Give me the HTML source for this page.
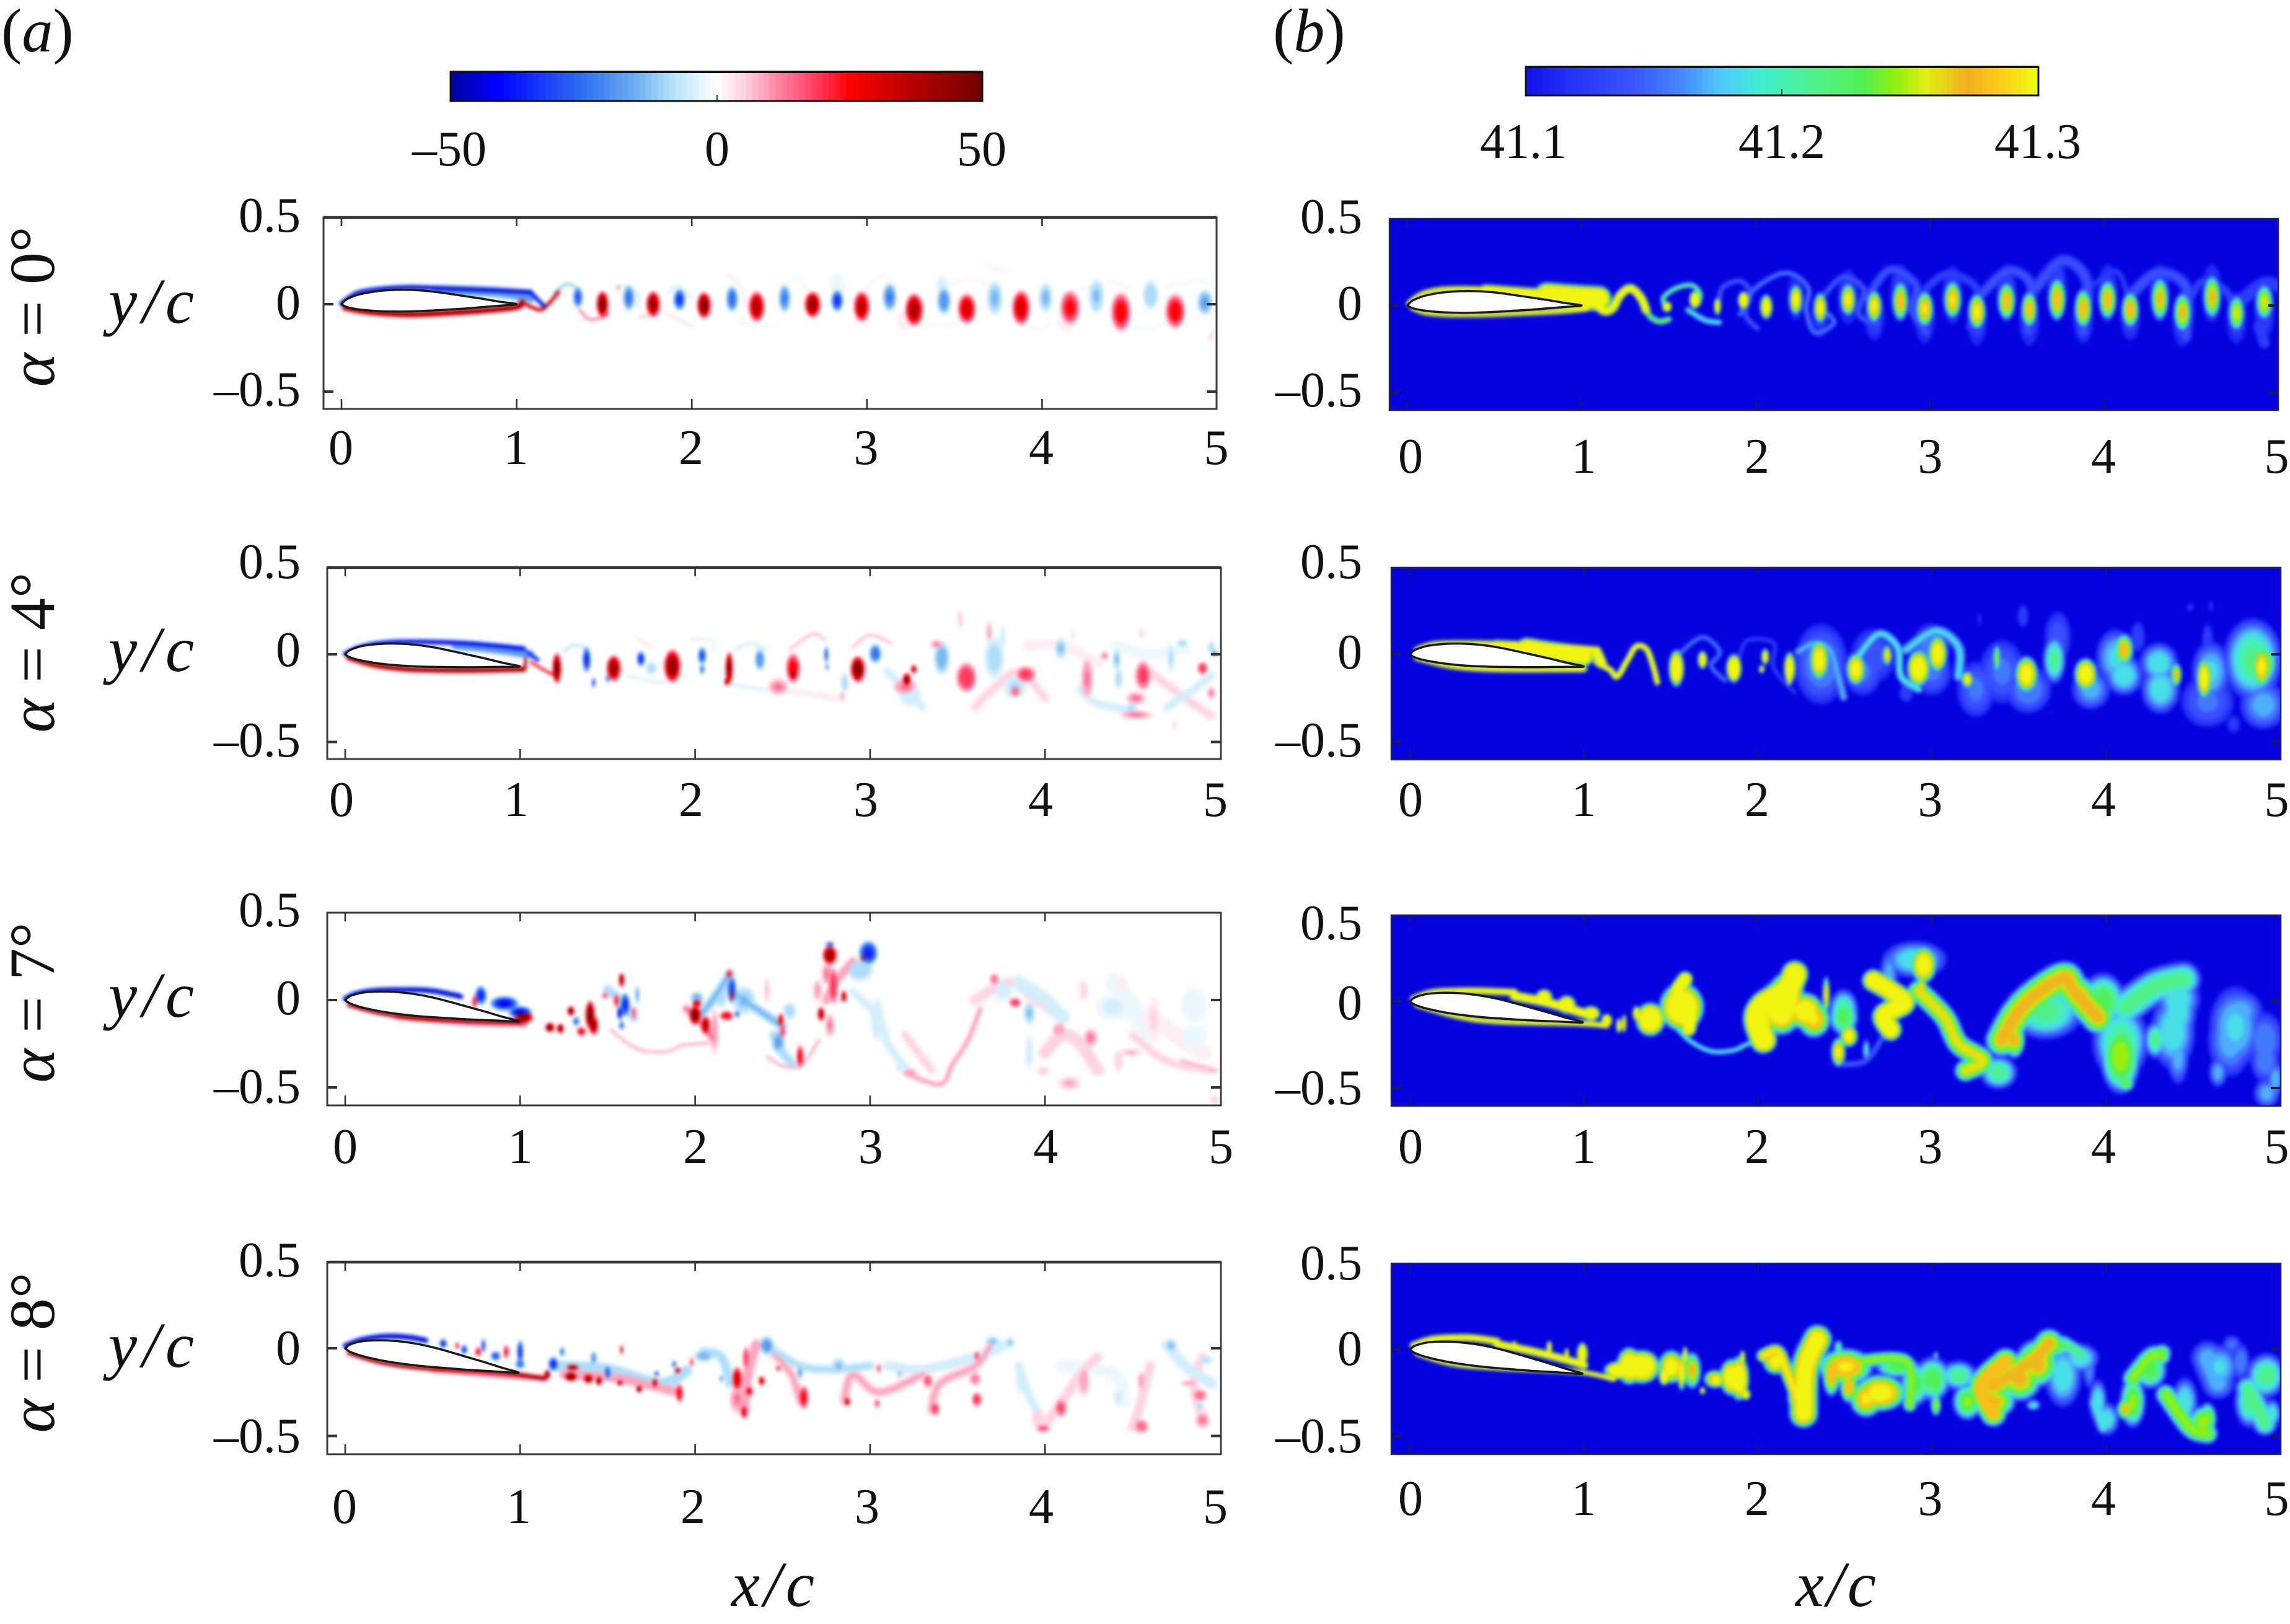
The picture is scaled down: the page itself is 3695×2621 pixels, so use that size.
<!DOCTYPE html>
<html lang="en">
<head>
<meta charset="utf-8">
<title>Vorticity and scalar fields behind an airfoil</title>
<style>
html,body{margin:0;padding:0;background:#fff;}
svg{display:block;}
text{font-family:"Liberation Serif","Noto Serif CJK SC",serif;fill:#111;}
.i{font-style:italic;}
</style>
</head>
<body>
<svg id="chart" xmlns="http://www.w3.org/2000/svg" width="3695" height="2621" viewBox="0 0 3695 2621">
<defs>
<filter id="soft" filterUnits="userSpaceOnUse" x="0" y="0" width="3695" height="2621" color-interpolation-filters="sRGB"><feGaussianBlur stdDeviation="3"/></filter>
</defs>
<rect x="0" y="0" width="3695" height="2621" fill="#ffffff"/>
<g id="panels"></g>
<g id="colorbars"></g>

<text x="2" y="83" font-size="100">(<tspan class="i">a</tspan>)</text>
<text x="2054" y="83" font-size="100">(<tspan class="i">b</tspan>)</text>

<text x="785" y="267" font-size="80" text-anchor="end">–50</text>
<text x="1157" y="267" font-size="80" text-anchor="middle">0</text>
<text x="1584" y="267" font-size="80" text-anchor="middle">50</text>
<text x="2458" y="255" font-size="80" text-anchor="middle">41.1</text>
<text x="2875" y="255" font-size="80" text-anchor="middle">41.2</text>
<text x="3288" y="255" font-size="80" text-anchor="middle">41.3</text>

<text transform="translate(87,495) rotate(-90)" font-size="104" text-anchor="middle"><tspan class="i">α</tspan> = 0°</text>
<text transform="translate(87,1053) rotate(-90)" font-size="104" text-anchor="middle"><tspan class="i">α</tspan> = 4°</text>
<text transform="translate(87,1618) rotate(-90)" font-size="104" text-anchor="middle"><tspan class="i">α</tspan> = 7°</text>
<text transform="translate(87,2183) rotate(-90)" font-size="104" text-anchor="middle"><tspan class="i">α</tspan> = 8°</text>

<text x="175" y="521" font-size="104" class="i" textLength="138" lengthAdjust="spacing">y/c</text>
<text x="175" y="1083" font-size="104" class="i" textLength="138" lengthAdjust="spacing">y/c</text>
<text x="175" y="1641" font-size="104" class="i" textLength="138" lengthAdjust="spacing">y/c</text>
<text x="175" y="2206" font-size="104" class="i" textLength="138" lengthAdjust="spacing">y/c</text>

<text x="1180" y="2592" font-size="104" class="i" textLength="134" lengthAdjust="spacing">x/c</text>
<text x="2897" y="2592" font-size="104" class="i" textLength="130" lengthAdjust="spacing">x/c</text>
</svg>

<script>
// ---- axis data ----
const xTickValues=[0,1,2,3,4,5];
const xTickLabels=['0','1','2','3','4','5'];
const yTickValues=[0.5,0,-0.5];
const yTickLabels=['0.5','0','–0.5'];

// ---- colour maps ----
const vortStops=[0,.09,.25,.35,.42,.5,.55,.62,.7,.75,.85,1];
const vortColors=['#00009f','#0000ff','#3070f0','#70b0f0','#b8e4fa','#ffffff','#ffd4e2','#ff80a0','#ff3050','#ff0000','#c00000','#700000'];
const scalStops=[0,.08,.2,.3,.38,.46,.56,.66,.72,.78,.86,.92,1];
const scalColors=['#1410ec','#2030f5','#3a50ff','#4585ff','#50c8ff','#40f0d0','#50f090','#50f050','#90f010','#e0f010','#f0b020','#ffc818','#eeff10'];
const vortLevels=[2,5,9,14,19,25,31,37,43,49];
const scalLevels=[41.112,41.125,41.14,41.155,41.17,41.185,41.2,41.215,41.23,41.245,41.26,41.27,41.28,41.29,41.297];

// ---- airfoil shape in chord units ----
const airfoilX=[0,.02,.05,.1,.2,.3,.4,.5,.6,.7,.8,.9,1];
const airfoilUpper=[0,.022,.038,.056,.074,.082,.082,.075,.062,.047,.032,.015,0];
const airfoilLower=[0,-.012,-.021,-.03,-.039,-.042,-.041,-.037,-.031,-.025,-.017,-.009,0];

// ---- alpha 0, vorticity ----
const a0BlobX=[1.35,1.64,1.93,2.23,2.53,2.83,3.13,3.44,3.73,4.02,4.31,4.62,4.93,1.49,1.78,2.07,2.37,2.69,2.97,3.27,3.57,3.88,4.16,4.45,4.76,2.83,3.43,3.22,4.14,4.97,1.58];
const a0BlobY=[.04,.037,.027,.03,.034,.02,.04,.02,.035,.037,.045,.053,.01,0,0,-.006,-.014,-.002,-.014,-.032,-.026,-.02,-.02,-.044,-.04,.11,.11,-.09,-.103,-.186,.095];
const a0BlobV=[-32,-28,-38,-30,-26,-38,-26,-24,-16,-16,-15,-14,-20,50,46,50,42,46,40,42,36,36,28,30,30,-5,-6,4,5,6,35];
const a0BlobW=[.025,.03,.03,.03,.03,.03,.035,.035,.04,.035,.04,.04,.04,.03,.035,.035,.04,.04,.04,.045,.045,.045,.05,.05,.05,.04,.035,.05,.05,.012,.004];
const a0BlobH=[.05,.06,.05,.06,.065,.05,.065,.065,.08,.07,.08,.07,.06,.06,.06,.06,.07,.06,.07,.075,.07,.08,.08,.09,.08,.06,.05,.06,.05,.02,.012];
const a0RidgeX=[[0,.09,.22,.385,.55,.88,1.08],[.55,.88,1.08],[1.08,1.12,1.16],[.02,.155,.385,.65,.98,1.03],[1.03,1.08,1.14,1.19,1.24],[1.21,1.29,1.36],[1.36,1.42,1.52,1.5],[1.59,1.69,1.69],[1.7,1.78],[1.87,1.92,2],[1.84,2.01],[2.2,2.28,2.31],[3.68,3.8],[2.5,2.6,2.66],[3,3.1,3.15],[3.9,4,4.05],[2.25,2.45,2.5],[3.4,3.6,3.7],[4.2,4.4,4.5],[4.7,4.9,4.98],[3.25,3.4,3.55],[4.45,4.6,4.75],[4.98,4.95]];
const a0RidgeY=[[.004,.063,.086,.096,.092,.08,.069],[.08,.069,.039],[.069,.027,-.014],[-.02,-.044,-.058,-.047,-.02,.01],[.01,-.014,-.032,.01,.069],[.063,.116,.08],[-.032,-.087,-.061,-.02],[.104,.063,-.02],[-.073,-.061],[.063,.104,.039],[-.044,-.132],[.169,.098,-.02],[.228,.181],[.09,.15,.08],[.1,.17,.1],[-.12,-.15,-.1],[-.1,-.13,-.1],[.08,.15,.1],[.08,.13,.08],[.1,.13,.1],[-.1,-.13,-.1],[-.12,-.14,-.1],[-.15,-.2]];
const a0RidgeV=[-50,-25,-45,48,40,-15,20,-8,12,-8,8,6,5,5,5,4,5,5,5,-5,-4,-4,6];
const a0RidgeW=[.014,.03,.012,.017,.01,.008,.006,.008,.005,.008,.005,.005,.008,.005,.005,.006,.005,.005,.005,.008,.008,.008,.008];

// ---- alpha 4, vorticity ----
const a4BlobX=[1.21,1.38,1.535,1.42,1.5,1.69,1.75,1.87,2.04,2.04,2.195,2.18,2.37,2.475,2.56,2.56,2.75,2.755,2.93,3.03,2.855,2.84,3.21,3.25,3.2,3.23,3.41,3.55,3.38,3.515,3.68,3.71,3.76,3.83,3.83,3.89,4.09,4.24,4.34,4.41,4.42,4.56,4.52,4.52,4.49,4.9,4.72,4.785,4.95,4.74,4.95,4.16,4.55,4.97];
const a4BlobY=[-.08,-.03,-.08,-.162,-.138,-.026,-.08,-.067,-.008,-.085,-.08,-.156,-.03,-.186,-.08,-.115,-.002,-.073,-.085,.004,-.162,-.24,-.144,-.085,-.186,-.233,-.02,-.132,.057,.204,.128,-.02,.098,-.21,-.186,-.115,.033,-.138,-.008,-.03,-.138,-.12,-.25,-.345,-.31,-.08,-.02,.063,.04,-.4,-.22,.11,.12,.004];
const a4BlobV=[50,-40,45,-40,-30,-40,-12,48,-35,-30,50,50,-25,15,30,50,-35,-30,50,-30,-12,12,50,40,15,-8,-18,25,15,8,12,-12,-8,18,-10,22,-15,15,15,-15,-12,22,15,15,-10,25,-10,-12,-12,6,15,6,6,-40];
const a4BlobW=[.022,.02,.035,.008,.01,.02,.03,.04,.02,.012,.018,.01,.025,.05,.035,.015,.01,.008,.035,.03,.02,.012,.02,.015,.06,.06,.04,.05,.03,.015,.015,.05,.015,.03,.06,.05,.03,.03,.02,.02,.02,.04,.05,.08,.04,.025,.02,.03,.02,.012,.02,.008,.015,.015];
const a4BlobH=[.07,.06,.06,.025,.02,.035,.03,.075,.04,.025,.075,.02,.05,.04,.07,.025,.04,.015,.06,.045,.05,.025,.03,.02,.04,.06,.08,.07,.02,.05,.05,.1,.06,.03,.06,.04,.05,.1,.02,.05,.05,.07,.03,.02,.03,.03,.07,.02,.03,.03,.03,.04,.03,.01];
const a4RidgeX=[[0,.08,.2,.36,.69,1.02],[.63,.86,1.06],[1.04,1.1],[.02,.165,.36,.69,1.02],[1.03,1.03],[1.06,1.14,1.195],[1.25,1.3,1.37],[1.67,1.75],[1.98,2.1,2.1],[2.23,2.31,2.41],[2.54,2.67,2.74],[2.9,3,3.12],[3.1,3.2,3.3],[3.6,3.7,3.85,4],[4.2,4.3,4.5],[4.6,4.8,4.95],[4.7,4.85,4.95],[3.9,4.1,4.3],[4.4,4.6,4.8],[2.5,2.8],[1.6,1.8,1.95],[2.2,2.4,2.5]];
const a4RidgeY=[[.004,.039,.063,.071,.063,.033],[.05,.027,-.002],[.015,-.032],[-.02,-.061,-.085,-.091,-.085],[-.026,-.073],[-.044,-.091,-.12],[.015,.05,.039],[.09,.04],[.086,.08,.015],[.027,.063,.027],[.027,.116,.086],[.04,.11,.063],[-.1,-.2,-.3],[-.3,-.2,-.1,-.25],[-.2,-.28,-.32],[-.1,-.25,-.35],[-.3,-.2,-.12],[.05,.05,-.05],[.05,0,.03],[-.2,-.25],[-.12,-.16,-.12],[-.17,-.2,-.15]];
const a4RidgeV=[-48,-25,-40,48,45,30,-10,8,-8,-8,10,10,-6,6,-6,6,-6,5,-5,5,-6,-6];
const a4RidgeW=[.014,.025,.012,.015,.008,.008,.008,.006,.006,.01,.008,.008,.03,.03,.03,.03,.03,.03,.03,.02,.008,.01];

// ---- alpha 7, vorticity ----
const a7BlobX=[.775,.91,.74,1,1.02,1.17,1.23,1.29,1.4,1.32,1.42,1.35,1.58,1.6,1.57,1.58,1.485,1.67,1.65,1.55,2,2.01,2.06,2.195,2.21,2.21,2.01,2.18,2.24,2.28,2.145,2.11,2.49,2.5,2.475,2.6,2.54,2.41,2.77,2.77,2.99,2.96,2.94,2.755,2.79,2.85,2.72,2.77,2.8,2.7,3.04,3.17,3.23,3.71,3.83,3.91,3.76,4.08,4.26,3.91,3.99,4.14,4.22,4.39,4.43,4.62,4.49,4.85,4.85,4.42,4.97];
const a7BlobY=[.026,-.02,-.01,-.07,-.1,-.157,-.163,-.063,-.086,-.122,-.145,-.18,.115,-.027,-.074,-.145,.026,.03,-.074,-.004,-.086,-.02,-.145,.15,.06,.03,.014,-.09,-.08,-.004,.02,-.18,-.116,-.18,-.24,-.323,-.063,.055,.257,.32,.27,.24,.174,.15,.08,.02,-.08,-.145,-.004,.055,-.11,-.38,-.417,.12,-.015,-.074,.055,-.17,-.216,-.3,-.405,-.476,.055,-.04,.1,-.11,-.3,-.03,-.216,-.346,-.57];
const a7BlobV=[-40,-45,30,-45,50,50,50,50,50,-30,45,30,45,-40,-45,-30,20,-20,20,30,50,40,40,30,-35,35,-18,30,-30,-15,-12,12,35,25,-20,30,-12,10,45,-35,-40,45,-14,15,25,40,40,15,-10,12,-8,-8,14,18,25,-15,-6,14,15,-7,8,10,7,-6,5,6,10,-5,-5,8,8];
const a7BlobW=[.025,.06,.01,.05,.04,.02,.015,.015,.02,.015,.02,.02,.012,.02,.012,.012,.015,.01,.012,.01,.025,.02,.02,.012,.02,.01,.03,.03,.012,.05,.03,.02,.012,.012,.03,.015,.03,.01,.03,.02,.04,.01,.06,.025,.02,.012,.015,.02,.03,.02,.03,.02,.03,.02,.025,.025,.06,.03,.03,.02,.03,.05,.02,.08,.03,.03,.05,.06,.06,.02,.02];
const a7BlobH=[.04,.03,.03,.025,.025,.02,.02,.02,.06,.02,.04,.02,.03,.05,.03,.02,.015,.04,.03,.03,.04,.015,.04,.02,.06,.03,.025,.02,.015,.06,.05,.1,.03,.03,.05,.05,.04,.06,.04,.01,.05,.012,.05,.05,.08,.025,.03,.05,.01,.05,.1,.03,.02,.025,.02,.05,.06,.03,.04,.08,.02,.03,.05,.06,.03,.1,.015,.08,.06,.05,.02];
const a7RidgeX=[[0,.07,.2,.46,.61,.66],[.02,.2,.46,.86,1],[.3,.7,1.02],[1.52,1.62,1.72,1.85,1.93,2.08],[2.41,2.51,2.61,2.71],[3.2,3.4,3.47,3.56,3.63],[4.78,4.98],[2,2.1,2.2],[2.2,2.35,2.5],[2.45,2.5,2.55],[2.75,2.8,2.9],[2.9,3.05,3.1,3.2],[3.2,3.35],[3.6,3.8,3.95,4.1],[3.85,4,4.1],[4,4.1,4.2,4.3],[4.4,4.5,4.6],[4.6,4.75,4.9],[4.5,4.7,4.95],[1.5,1.6,1.65],[1.95,2.05,2.1]];
const a7RidgeY=[[.008,.038,.056,.056,.032,.02],[-.027,-.074,-.11,-.122,-.128],[-.09,-.122,-.13],[-.169,-.252,-.293,-.293,-.258,-.246],[-.323,-.38,-.37,-.228],[-.417,-.482,-.37,-.228,-.05],[-.346,-.405],[-.12,0,.15],[.05,-.05,-.15],[-.2,-.3,-.36],[0,.1,.22],[.05,-.1,-.25,-.38],[-.2,-.4],[0,.1,0,-.1],[.1,0,-.1],[-.3,-.2,-.25,-.4],[.1,-.05,-.2],[-.1,-.2,-.3],[-.2,-.35,-.4],[.06,-.03,-.1],[-.05,-.15,-.22]];
const a7RidgeV=[-50,50,22,14,14,12,10,-15,-15,-12,12,-6,6,6,-7,8,-5,5,6,-12,15];
const a7RidgeW=[.016,.012,.024,.008,.008,.016,.012,.03,.03,.03,.03,.03,.03,.04,.05,.04,.06,.05,.03,.03,.025];

// ---- alpha 8, vorticity ----
const a8BlobX=[.56,.64,.68,.79,.76,.92,1,.86,1,1.24,1.19,1.3,1.29,1.155,1.39,1.45,1.42,1.5,1.58,1.57,1.68,1.77,1.78,1.9,1.91,1.88,1.98,2.05,2.29,2.24,2.28,2.31,2.38,2.15,2.41,2.475,2.24,2.62,2.6,2.82,2.87,3.05,3.04,3.17,3.33,3.37,3.6,3.61,3.61,3.7,3.8,3.86,4.22,4.09,3.99,3.96,4.55,4.55,4.72,4.82,4.885,4.9,4.885,4.42,4.92];
const a8BlobY=[.027,.015,-.008,.015,-.02,-.02,-.02,-.044,-.09,-.02,-.09,-.11,-.162,-.15,-.174,-.186,-.056,-.138,-.008,-.197,-.233,-.197,-.144,-.126,-.256,-.09,-.08,-.044,-.056,-.174,-.363,-.245,-.186,-.174,.015,-.115,-.29,-.28,-.138,-.103,-.304,-.115,-.315,-.144,-.186,-.345,-.174,-.292,-.044,.04,.033,-.174,-.186,-.34,-.457,-.4,-.186,-.445,.015,-.2,-.268,-.41,-.327,-.28,-.067];
const a8BlobV=[-40,30,-40,-40,30,30,-40,-35,-30,-30,-40,50,50,50,45,50,-25,-35,40,45,50,45,-40,45,30,-30,25,-18,25,35,35,35,40,-30,-22,25,15,28,-20,-15,35,20,20,-15,20,22,15,25,25,-15,-15,-8,12,20,20,7,14,18,-15,14,18,15,-12,-8,-10];
const a8BlobW=[.015,.008,.012,.008,.012,.01,.012,.02,.02,.01,.02,.025,.025,.012,.02,.012,.012,.012,.006,.012,.012,.01,.01,.012,.015,.01,.008,.04,.012,.02,.012,.015,.012,.006,.03,.012,.03,.02,.012,.03,.012,.01,.012,.012,.02,.02,.025,.02,.01,.03,.015,.02,.025,.025,.03,.03,.015,.03,.025,.03,.03,.03,.015,.02,.03];
const a8BlobH=[.02,.015,.02,.03,.02,.03,.05,.02,.02,.02,.03,.012,.02,.02,.02,.02,.03,.03,.02,.012,.015,.02,.01,.012,.04,.015,.02,.025,.05,.05,.03,.02,.02,.015,.04,.012,.06,.05,.03,.035,.02,.02,.02,.02,.03,.03,.03,.03,.02,.02,.02,.07,.07,.04,.015,.05,.04,.03,.03,.012,.025,.035,.02,.04,.02];
const a8RidgeX=[[0,.1,.23,.36,.46],[.02,.2,.46,.86,1.14],[.5,1.14],[2.28,2.3,2.35],[2.6,2.55,2.45],[2.85,2.9,3.05,3.3],[3.35,3.4,3.6,3.7],[3.98,4.1,4.2,4.3],[4.5,4.55,4.6],[4.9,4.85,4.9],[2.05,2.15,2.2],[2.4,2.6,2.8,3],[3.1,3.3,3.6,3.8],[3.85,3.9,3.95],[4.1,4.4,4.45],[4.7,4.8,4.95],[1.2,1.5,1.8,1.95],[1.25,1.55,1.9]];
const a8RidgeY=[[.015,.05,.068,.063,.045],[-.026,-.08,-.115,-.132,-.174],[-.12,-.17],[-.36,-.15,.02],[-.3,-.15,-.03],[-.3,-.15,-.25,-.15],[-.35,-.2,-.1,.03],[-.46,-.3,-.15,-.05],[-.45,-.3,-.1],[-.4,-.2,-.05],[-.02,-.05,-.2],[.02,-.1,-.12,-.1],[-.1,-.12,-.05,.03],[-.1,-.25,-.35],[-.1,-.15,-.3],[.02,-.1,-.2],[-.1,-.12,-.2,-.13],[-.15,-.17,-.25]];
const a8RidgeV=[-50,50,20,12,10,10,10,9,8,8,-12,-10,-9,-7,-5,-7,-14,14];
const a8RidgeW=[.016,.012,.02,.035,.03,.03,.03,.03,.03,.03,.03,.03,.03,.03,.04,.04,.035,.03];

// ---- alpha 0, scalar ----
const b0BlobX=[2.23,2.37,2.53,2.68,2.83,2.97,3.13,3.27,3.44,3.57,3.73,3.88,4.02,4.15,4.32,4.45,4.62,4.76,4.92,1.49,1.65,1.78,1.93,2.06,2.23,2.37,2.53,2.68,2.83,2.97,3.13,3.27,3.44,3.57,3.73,3.88,4.02,4.15,4.32,4.45,4.62,4.76,4.92];
const b0BlobY=[.05,-.05,.05,-.06,.07,-.07,.06,-.08,.07,-.08,.09,-.07,.07,-.06,.07,-.08,.07,-.07,-.02,-.008,.033,-.005,.03,-.008,.033,-.014,.033,-.005,.025,-.02,.033,-.034,.025,-.022,.036,-.017,.033,-.024,.038,-.04,.05,-.044,.02];
const b0BlobV=[41.13,41.13,41.135,41.135,41.135,41.135,41.135,41.135,41.135,41.135,41.135,41.135,41.135,41.135,41.135,41.135,41.135,41.135,41.135,41.4,41.4,41.36,41.4,41.34,41.32,41.32,41.31,41.31,41.29,41.3,41.3,41.31,41.29,41.29,41.29,41.29,41.29,41.29,41.28,41.28,41.28,41.27,41.27];
const b0BlobW=[.06,.06,.07,.07,.07,.07,.07,.07,.07,.07,.07,.07,.07,.07,.07,.07,.07,.07,.07,.03,.035,.022,.035,.04,.042,.042,.048,.048,.05,.055,.055,.055,.055,.05,.055,.055,.055,.055,.055,.055,.055,.05,.055];
const b0BlobH=[.15,.15,.17,.15,.18,.16,.18,.16,.18,.16,.2,.16,.18,.15,.18,.17,.18,.16,.19,.03,.05,.05,.05,.07,.085,.085,.09,.09,.11,.1,.105,.1,.105,.1,.12,.11,.11,.1,.12,.11,.12,.1,.1];
const b0RidgeX=[[.01,.05,.1,.18,.3,.5],[.45,.65,.8],[.8,1,1.1],[.03,.1,.2,.3,.5,.7,.9,1.03],[1.02,1.07,1.13,1.18,1.22,1.28,1.34,1.37],[1.37,1.4,1.45,1.5],[1.48,1.47,1.54,1.63,1.68,1.67],[1.61,1.71,1.79],[1.79,1.81,1.91,1.97,1.94,2.01],[1.91,1.99,2.17,2.3,2.29,2.34,2.45,2.37],[2.37,2.5,2.62,2.59,2.7],[2.64,2.77,2.92,2.9,2.98],[2.95,3.1,3.27,3.23],[3.3,3.45,3.58,3.56],[3.6,3.76,3.9,3.88],[3.91,4.06,4.13,4.13],[4.16,4.31,4.47,4.47],[4.49,4.57,4.71,4.76],[4.79,4.92,5.02],[4.92,4.89]];
const b0RidgeY=[[.012,.045,.07,.088,.094,.09],[.085,.07,.06],[.06,.045,.04],[-.015,-.04,-.05,-.053,-.05,-.042,-.032,-.02],[.01,.01,-.032,-.014,.057,.098,.045,-.026],[-.026,-.07,-.092,-.08],[-.002,.045,.098,.116,.069,.01],[-.026,-.085,-.097],[.02,.104,.14,.069,-.05,-.133],[-.05,.092,.187,.104,-.026,-.156,-.097,-.014],[.033,.163,.092,-.05,-.109],[.045,.205,.116,-.026,-.156],[.069,.181,.092,-.12],[.069,.199,.116,-.144],[.092,.258,.14,-.156],[.092,.199,.069,-.133],[.069,.187,.104,-.18],[.033,.14,.069,-.12],[.033,.128,.104],[-.215,-.12]];
const b0RidgeV=[41.4,41.4,41.4,41.4,41.37,41.24,41.22,41.2,41.15,41.16,41.15,41.145,41.14,41.145,41.145,41.13,41.145,41.14,41.14,41.14];
const b0RidgeW=[.015,.03,.06,.013,.022,.016,.014,.016,.014,.014,.016,.024,.022,.028,.032,.016,.032,.022,.035,.03];

// ---- alpha 4, scalar ----
const b4BlobX=[2.36,2.66,2.99,2.85,3.25,3.52,3.72,3.55,3.91,4.18,4.05,4.31,4.58,4.73,4.9,4.84,4.48,4.6,3.27,4.58,4.87,1.53,1.68,1.86,2.04,2.02,2.18,2.175,2.35,2.56,2.74,2.92,3.03,3.2,3.54,3.88,4.1,4.4,4.56,4.89,3.37,3.7,4.9,4.3,3.4,4.6,4.1,3,2.6];
const b4BlobY=[-.056,-.008,.027,-.22,-.2,.22,.1,-.2,-.2,.1,-.02,-.2,-.27,-.4,-.29,-.03,.27,.275,.2,.086,.12,-.08,-.032,-.08,-.014,-.085,-.08,-.156,-.032,-.085,-.006,-.08,.004,-.144,-.115,-.115,.027,-.117,-.138,-.073,-.02,-.03,-.05,-.05,-.1,-.1,-.12,-.1,-.1];
const b4BlobV=[41.17,41.15,41.17,41.14,41.16,41.14,41.15,41.17,41.18,41.14,41.19,41.2,41.16,41.13,41.18,41.22,41.13,41.13,41.13,41.14,41.14,41.38,41.36,41.4,41.36,41.34,41.36,41.34,41.33,41.33,41.3,41.36,41.34,41.32,41.33,41.34,41.29,41.28,41.33,41.31,41.25,41.22,41.26,41.2,41.16,41.19,41.2,41.16,41.16];
const b4BlobW=[.14,.12,.1,.04,.1,.03,.07,.12,.1,.04,.1,.1,.14,.04,.12,.15,.02,.012,.01,.03,.02,.04,.025,.04,.02,.015,.03,.01,.05,.05,.025,.06,.05,.03,.06,.06,.05,.03,.04,.05,.02,.06,.07,.1,.12,.1,.1,.1,.1];
const b4BlobH=[.2,.14,.13,.05,.14,.06,.13,.12,.1,.08,.14,.12,.13,.05,.12,.2,.02,.03,.035,.08,.05,.09,.045,.07,.04,.02,.08,.02,.1,.08,.05,.09,.09,.04,.09,.08,.08,.06,.1,.1,.07,.12,.1,.1,.16,.15,.1,.12,.12];
const b4RidgeX=[[.04,.17,.5,.83,1.07],[.5,.67],[.67,.83,1],[1.07,1.1],[.04,.24,.5,1],[1.07,1.15,1.19,1.25,1.3,1.36,1.4,1.42],[1.56,1.68,1.78,1.73,1.81],[1.89,1.94,2.09,2.09,2.21],[2.23,2.32,2.41,2.46,2.49],[2.56,2.69,2.8,2.82,2.92],[2.85,3.02,3.15,3.15]];
const b4RidgeY=[[.027,.06,.06,.045,.027],[.047,.037],[.037,.012,-.01],[.015,-.05],[-.02,-.067,-.085,-.085],[-.044,-.09,-.127,-.032,.045,.027,-.08,-.16],[.015,.098,.015,-.067,-.15],[-.02,.08,.063,-.08,-.22],[.015,.063,.027,-.127,-.245],[-.03,.116,.04,-.127,-.2],[.027,.134,.04,-.127]];
const b4RidgeV=[41.4,41.4,41.4,41.4,41.4,41.36,41.16,41.14,41.18,41.2,41.19];
const b4RidgeW=[.014,.028,.045,.025,.014,.014,.012,.01,.02,.02,.025];

// ---- alpha 7, scalar ----
const b7BlobX=[.77,.9,1.04,1.13,1.2,1.38,1.3,1.23,1.56,2.16,2.27,2.39,2.49,2.52,2.46,2.62,2.9,2.95,2.94,2.75,3.38,3.47,3.86,4.08,4.11,4.28,4.41,4.41,4.77,4.71,4.64,4.91,4.92,4.97,2.13,2.03,2.32,2.49,3.65,3.98,4.41,4.08,4.38,4.74,4.77,4.91];
const b7BlobY=[.026,-.02,-.07,-.11,-.14,-.104,-.07,-.128,-.033,.026,-.057,.038,-.092,-.2,-.293,-.28,.24,.21,.09,.14,-.41,-.222,.014,-.317,-.47,-.222,-.057,-.317,-.057,-.222,-.41,-.34,-.53,-.45,-.033,-.128,-.104,-.057,-.057,.002,.014,-.234,-.175,-.15,-.03,-.22];
const b7BlobV=[41.4,41.4,41.4,41.4,41.4,41.4,41.4,41.4,41.38,41.36,41.34,41.3,41.24,41.33,41.31,41.2,41.2,41.34,41.3,41.18,41.22,41.28,41.28,41.26,41.24,41.22,41.2,41.18,41.18,41.18,41.18,41.17,41.18,41.18,41.36,41.36,41.3,41.22,41.22,41.24,41.2,41.22,41.2,41.19,41.17,41.17];
const b7BlobW=[.045,.05,.05,.03,.015,.08,.02,.012,.12,.1,.1,.02,.08,.05,.04,.02,.17,.07,.025,.05,.1,.06,.08,.11,.05,.06,.1,.06,.12,.12,.05,.08,.07,.05,.12,.05,.09,.08,.2,.12,.12,.15,.12,.14,.1,.1];
const b7BlobH=[.04,.05,.04,.035,.04,.09,.04,.05,.13,.13,.1,.1,.1,.06,.08,.06,.1,.1,.04,.15,.09,.1,.12,.2,.05,.1,.17,.15,.11,.2,.08,.12,.08,.1,.15,.12,.1,.12,.15,.15,.12,.2,.2,.22,.07,.15];
const b7RidgeX=[[.02,.14,.37,.6],[.6,.8,1],[.04,.27,.5,.97,1.13],[1.58,1.53,1.61,1.6],[1.51,1.6,1.73,1.86,1.94,2.03],[2.21,2.16,2.03,1.99,2.03],[2.49,2.62,2.72],[2.66,2.76,2.84,2.72,2.76],[2.92,3.07,3.15,3.29,3.19],[3.4,3.48,3.58,3.75,3.81,3.95],[4.11,4.28,4.44]];
const b7RidgeY=[[.014,.052,.06,.052],[.03,-.01,-.07],[-.02,-.086,-.116,-.128,-.14],[.127,.038,-.045,-.157],[-.128,-.222,-.288,-.282,-.246,-.234],[.156,.062,-.02,-.104,-.222],[-.364,-.34,-.2],[.12,.06,-.01,-.08,-.163],[.06,-.092,-.246,-.34,-.4],[-.222,-.08,.026,.133,.062,-.092],[-.033,.085,.127]];
const b7RidgeV=[41.4,41.4,41.4,41.38,41.2,41.4,41.15,41.36,41.27,41.28,41.22];
const b7RidgeW=[.016,.022,.013,.035,.013,.06,.015,.05,.05,.075,.08];

// ---- alpha 8, scalar ----
const b8BlobX=[.6,.8,.99,.9,1.26,1.36,1.46,1.58,1.56,1.68,1.76,1.89,1.91,1.93,2.22,2.46,2.42,2.62,2.52,3.02,3.02,3.02,3.58,3.9,4.11,4.58,4.71,4.91,4.77,1.2,1.33,1.5,1.62,1.75,1.85,2.1,2.5,2.7,2.8,2.9,3,3.15,3.2,3.35,3.5,3.6,3.7,3.75,3.85,3.95,4,4.15,4.25,4.32,4.45,4.55,4.65,4.72,4.82,4.92,4.95];
const b8BlobY=[.018,.012,-.024,-.024,-.095,-.095,-.154,-.036,-.13,-.237,-.178,-.166,-.047,-.26,-.272,.012,-.142,-.284,-.213,-.036,-.32,-.19,-.32,-.118,-.343,-.4,.012,-.154,-.07,-.12,-.1,-.1,-.12,-.17,-.16,-.07,-.1,-.25,-.1,-.2,-.17,-.15,-.3,-.3,-.17,-.08,.02,-.15,-.05,-.3,-.4,-.3,-.12,-.02,-.3,-.42,-.1,.03,-.3,-.15,-.37];
const b8BlobV=[41.4,41.4,41.4,41.4,41.37,41.37,41.37,41.36,41.33,41.36,41.36,41.36,41.36,41.36,41.3,41.22,41.29,41.3,41.29,41.2,41.25,41.24,41.2,41.17,41.28,41.25,41.15,41.22,41.17,41.38,41.38,41.33,41.28,41.3,41.35,41.32,41.3,41.32,41.24,41.24,41.24,41.22,41.25,41.28,41.28,41.28,41.25,41.2,41.2,41.2,41.2,41.25,41.24,41.24,41.2,41.26,41.19,41.16,41.22,41.22,41.2];
const b8BlobW=[.015,.015,.03,.012,.07,.06,.03,.015,.025,.015,.035,.055,.015,.025,.05,.025,.05,.09,.05,.015,.03,.05,.04,.035,.05,.05,.04,.1,.05,.08,.1,.07,.05,.06,.07,.07,.15,.14,.12,.08,.1,.1,.08,.12,.12,.12,.1,.1,.1,.05,.07,.07,.09,.05,.07,.07,.1,.05,.08,.1,.05];
const b8BlobH=[.03,.035,.06,.03,.1,.08,.05,.05,.1,.02,.04,.12,.04,.03,.08,.04,.12,.1,.09,.025,.06,.1,.03,.1,.06,.09,.05,.12,.1,.05,.09,.09,.1,.05,.1,.07,.1,.1,.06,.12,.12,.08,.1,.09,.12,.13,.06,.17,.08,.12,.09,.14,.1,.05,.13,.09,.12,.05,.14,.12,.08];
const b8RidgeX=[[.02,.14,.34,.5],[.5,.7,.9,1],[.04,.24,.5,.97,1.17],[2.03,2.11,2.16,2.26],[2.34,2.27,2.26],[2.56,2.85,2.87],[3.42,3.28,3.35],[3.35,3.58,3.67],[3.75,3.85],[3.93,3.98],[4.15,4.25,4.31],[4.34,4.48,4.58],[4.58,4.64],[4.81,4.91]];
const b8RidgeY=[[.024,.06,.067,.047],[.03,-.01,-.06,-.09],[-.024,-.083,-.107,-.13,-.172],[-.036,-.012,-.118,-.367],[.059,-.107,-.367],[-.07,-.07,-.32],[-.07,-.213,-.367],[-.213,-.059,.036],[.036,-.024],[-.308,-.45],[-.166,-.047,-.036],[-.26,-.45,-.485],[-.047,-.19],[-.225,-.426]];
const b8RidgeV=[41.4,41.4,41.4,41.3,41.33,41.25,41.29,41.28,41.22,41.2,41.25,41.25,41.18,41.22];
const b8RidgeW=[.018,.02,.012,.035,.07,.035,.065,.07,.04,.03,.05,.05,.08,.06];

// ---- panel layout ----
const layout=[
{id:'a0',kind:'a',alpha:0,sw:1.25,sh:1.35,rs:1.2,L:522,T:351,R:1963,B:660,x0:551,ux:282.6,y0:491,uy:282,lx0:550,lu:282.5,lb:749,yr:485,yb:[374,515,655],blob:[a0BlobX,a0BlobY,a0BlobV,a0BlobW,a0BlobH],ridge:[a0RidgeX,a0RidgeY,a0RidgeV,a0RidgeW]},
{id:'a4',kind:'a',alpha:4,sw:1.3,sh:1.35,rs:1.2,L:528,T:916,R:1970,B:1225,x0:557,ux:282.3,y0:1056,uy:283,lx0:551,lu:282,lb:1317,yr:485,yb:[933,1075,1221],blob:[a4BlobX,a4BlobY,a4BlobV,a4BlobW,a4BlobH],ridge:[a4RidgeX,a4RidgeY,a4RidgeV,a4RidgeW]},
{id:'a7',kind:'a',alpha:7,sw:1.5,sh:1.5,rs:1.15,L:528,T:1473,R:1970,B:1784,x0:557,ux:282.3,y0:1614,uy:282,lx0:557,lu:282.6,lb:1877,yr:485,yb:[1495,1637,1780],blob:[a7BlobX,a7BlobY,a7BlobV,a7BlobW,a7BlobH],ridge:[a7RidgeX,a7RidgeY,a7RidgeV,a7RidgeW]},
{id:'a8',kind:'a',alpha:8,sw:1.6,sh:1.5,rs:1.15,L:528,T:2037,R:1970,B:2347,x0:557,ux:282.3,y0:2176,uy:283,lx0:556,lu:281,lb:2458,yr:485,yb:[2060,2202,2344],blob:[a8BlobX,a8BlobY,a8BlobV,a8BlobW,a8BlobH],ridge:[a8RidgeX,a8RidgeY,a8RidgeV,a8RidgeW]},
{id:'b0',kind:'b',alpha:0,sw:1,sh:1.1,rs:1.3,L:2242,T:353,R:3676,B:662,x0:2271,ux:281,y0:493,uy:281,lx0:2276,lu:279.5,lb:763,yr:2198,yb:[376,516,656],blob:[b0BlobX,b0BlobY,b0BlobV,b0BlobW,b0BlobH],ridge:[b0RidgeX,b0RidgeY,b0RidgeV,b0RidgeW]},
{id:'b4',kind:'b',alpha:4,sw:1.2,sh:1.25,rs:1.4,L:2245,T:916,R:3680,B:1226,x0:2275,ux:281,y0:1056,uy:282,lx0:2276,lu:279.5,lb:1317,yr:2198,yb:[933,1079,1221],blob:[b4BlobX,b4BlobY,b4BlobV,b4BlobW,b4BlobH],ridge:[b4RidgeX,b4RidgeY,b4RidgeV,b4RidgeW]},
{id:'b7',kind:'b',alpha:7,sw:1.15,sh:1.15,rs:1.4,L:2245,T:1477,R:3680,B:1785,x0:2275,ux:281,y0:1616,uy:280,lx0:2276,lu:279.5,lb:1877,yr:2198,yb:[1516,1645,1782],blob:[b7BlobX,b7BlobY,b7BlobV,b7BlobW,b7BlobH],ridge:[b7RidgeX,b7RidgeY,b7RidgeV,b7RidgeW]},
{id:'b8',kind:'b',alpha:8,sw:1.15,sh:1.15,rs:1.3,L:2245,T:2039,R:3680,B:2347,x0:2275,ux:281,y0:2178,uy:280,lx0:2276,lu:279.5,lb:2445,yr:2198,yb:[2065,2203,2344],blob:[b8BlobX,b8BlobY,b8BlobV,b8BlobW,b8BlobH],ridge:[b8RidgeX,b8RidgeY,b8RidgeV,b8RidgeW]}
];

const NS='http://www.w3.org/2000/svg';
function mk(tag,parent,attrs){
  const el=document.createElementNS(NS,tag);
  for(const k in attrs){el.setAttribute(k,attrs[k]);}
  parent.appendChild(el);
  return el;
}
function hex(c){return [parseInt(c.substr(1,2),16),parseInt(c.substr(3,2),16),parseInt(c.substr(5,2),16)];}
function ramp(stops,colors,t){
  t=Math.max(0,Math.min(1,t));
  for(let i=1;i<stops.length;i++){
    if(t<=stops[i]){
      const f=(t-stops[i-1])/(stops[i]-stops[i-1]),a=hex(colors[i-1]),b=hex(colors[i]);
      return 'rgb('+[0,1,2].map(k=>Math.round(a[k]+(b[k]-a[k])*f)).join(',')+')';
    }
  }
  return colors[colors.length-1];
}
function vortColor(v){return ramp(vortStops,vortColors,(v+50)/100);}
function scalColor(v){return ramp(scalStops,scalColors,(v-41.1)/0.2);}
function smooth(p){
  let d='M'+p[0][0].toFixed(1)+' '+p[0][1].toFixed(1);
  if(p.length===2){return d+'L'+p[1][0].toFixed(1)+' '+p[1][1].toFixed(1);}
  for(let i=0;i<p.length-1;i++){
    const a=p[Math.max(0,i-1)],b=p[i],c=p[i+1],e=p[Math.min(p.length-1,i+2)];
    d+='C'+(b[0]+(c[0]-a[0])/6).toFixed(1)+' '+(b[1]+(c[1]-a[1])/6).toFixed(1)+' '+
       (c[0]-(e[0]-b[0])/6).toFixed(1)+' '+(c[1]-(e[1]-b[1])/6).toFixed(1)+' '+c[0].toFixed(1)+' '+c[1].toFixed(1);
  }
  return d;
}

const root=document.getElementById('panels');
layout.forEach(function(p){
  const xAxis=function(u){return p.x0+u*p.ux;};
  const yAxis=function(v){return p.y0-v*p.uy;};
  const panel=mk('g',root,{});
  
  

  const clip=mk('clipPath',panel,{id:'clip-'+p.id});
  mk('rect',clip,{x:p.L,y:p.T,width:p.R-p.L,height:p.B-p.T});

  const bg=mk('rect',panel,{x:p.L,y:p.T,width:p.R-p.L,height:p.B-p.T,fill:p.kind==='a'?'#ffffff':'#0600df'});
  
  

  const holder=mk('g',panel,{'clip-path':'url(#clip-'+p.id+')'});
  const field=mk('g',holder,{filter:'url(#soft)'});
  
  

  const levels=p.kind==='a'?vortLevels:scalLevels;
  const lo=p.kind==='a'?0:41.1;
  const bx=p.blob[0],by=p.blob[1],bv=p.blob[2],bw=p.blob[3],bh=p.blob[4];
  const rx=p.ridge[0],ry=p.ridge[1],rv=p.ridge[2],rw=p.ridge[3];
  levels.forEach(function(L){
    for(let i=0;i<rx.length;i++){
      const mag=p.kind==='a'?Math.abs(rv[i]):rv[i];
      if(mag<=L){continue;}
      const f=Math.pow(1-(L-lo)/(mag-lo),0.4);
      const val=p.kind==='a'?(rv[i]<0?-L:L):L;
      const pts=rx[i].map(function(x,k){return [xAxis(x),yAxis(ry[i][k])];});
      const el=mk('path',field,{d:smooth(pts),fill:'none',stroke:p.kind==='a'?vortColor(val):scalColor(val),'stroke-width':(2*rw[i]*p.rs*p.ux*f).toFixed(1),'stroke-linecap':'round','stroke-linejoin':'round'});
      
      
    }
    for(let i=0;i<bx.length;i++){
      const mag=p.kind==='a'?Math.abs(bv[i]):bv[i];
      if(mag<=L){continue;}
      const f=Math.pow(1-(L-lo)/(mag-lo),0.4);
      const val=p.kind==='a'?(bv[i]<0?-L:L):L;
      const el=mk('ellipse',field,{cx:xAxis(bx[i]).toFixed(1),cy:yAxis(by[i]).toFixed(1),rx:(bw[i]*p.sw*p.ux*f).toFixed(1),ry:(bh[i]*p.sh*p.uy*f).toFixed(1),fill:p.kind==='a'?vortColor(val):scalColor(val)});
      
      
    }
  });

  // airfoil, rotated by the angle of attack
  const rad=p.alpha*Math.PI/180,c=Math.cos(rad),s=Math.sin(rad);
  const foil=[];
  airfoilX.forEach(function(x,k){foil.push([x,airfoilUpper[k]]);});
  for(let k=airfoilX.length-2;k>0;k--){foil.push([airfoilX[k],airfoilLower[k]]);}
  const foilPts=foil.map(function(q){return [xAxis(q[0]*c+q[1]*s),yAxis(q[1]*c-q[0]*s)];});
  foilPts.push(foilPts[0]);
  const airfoil=mk('path',holder,{d:smooth(foilPts)+'Z',fill:'#ffffff',stroke:'#1a1a1a','stroke-width':3.5,'stroke-linejoin':'round'});
  
  

  // frame
  const frameColor=p.kind==='a'?'#3c3c3c':'#23264a';
  const frame=mk('rect',panel,{x:p.L,y:p.T,width:p.R-p.L,height:p.B-p.T,fill:'none',stroke:frameColor,'stroke-width':p.kind==='a'?3:2.5});
  
  
  if(p.kind==='a'&&(p.id==='a0'||p.id==='a4'||p.id==='a8')){
    const top=mk('line',panel,{x1:p.L,x2:p.R,y1:p.T,y2:p.T,stroke:'#333','stroke-width':4.5});
    
    
  }

  // ticks and tick labels
  const tickColor=p.kind==='a'?'#333':'#1b1b50';
  const tickW=p.kind==='a'?2.6:2;
  xTickValues.forEach(function(v,i){
    const tx=xAxis(v);
    if(v<5){
      const t1=mk('line',panel,{x1:tx,x2:tx,y1:p.T,y2:p.T+14,stroke:tickColor,'stroke-width':tickW});
      
      
      const t2=mk('line',panel,{x1:tx,x2:tx,y1:p.B,y2:p.B-16,stroke:tickColor,'stroke-width':tickW});
      
      
    }
    const lab=mk('text',panel,{x:p.lx0+v*p.lu,y:p.lb,'font-size':80,'text-anchor':'middle'});
    lab.textContent=xTickLabels[i];
    
    
  });
  yTickValues.forEach(function(v,i){
    const ty=yAxis(v);
    if(v<0.5){
      const t1=mk('line',panel,{x1:p.L,x2:p.L+16,y1:ty,y2:ty,stroke:tickColor,'stroke-width':4});
      
      
      const t2=mk('line',panel,{x1:p.R,x2:p.R-16,y1:ty,y2:ty,stroke:tickColor,'stroke-width':4});
      
      
    }
    const lab=mk('text',panel,{x:p.yr,y:p.yb[i],'font-size':80,'text-anchor':'end'});
    lab.textContent=yTickLabels[i];
    
    
  });
});

// colour bars
const bars=document.getElementById('colorbars');
function colorbar(name,x,y,w,h,tickX,colorFn,lo,hi){
  const g=mk('g',bars,{});
  
  
  const n=90;
  for(let i=0;i<n;i++){
    const cell=mk('rect',g,{x:(x+w*i/n).toFixed(2),y:y,width:(w/n+0.6).toFixed(2),height:h,fill:colorFn(lo+(hi-lo)*(i+.5)/n)});
    
    
  }
  const fr=mk('rect',g,{x:x,y:y,width:w,height:h,fill:'none',stroke:'#111','stroke-width':3});
  
  
  const top=mk('line',g,{x1:x,x2:x+w,y1:y,y2:y,stroke:'#111','stroke-width':4});
  
  
  const tk=mk('line',g,{x1:tickX,x2:tickX,y1:y+h-10,y2:y+h,stroke:'#111','stroke-width':1.6});
  
  
}
colorbar('vorticity-colorbar',727,116,858,47,1157,vortColor,-50,50);
colorbar('scalar-colorbar',2462,108,827,46,2875,scalColor,41.1,41.3);
</script>
</body>
</html>
